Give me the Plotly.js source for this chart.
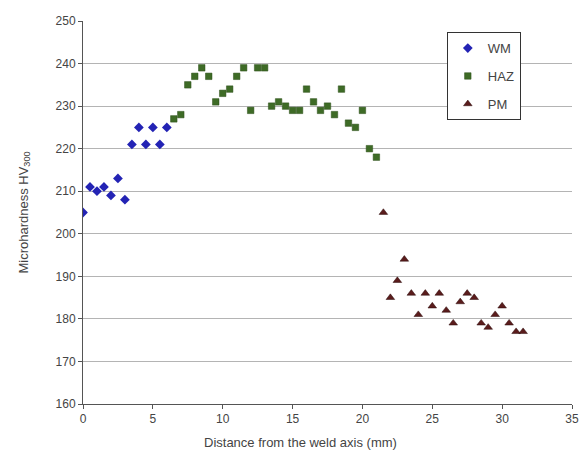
<!DOCTYPE html>
<html>
<head>
<meta charset="utf-8">
<script src="https://cdn.plot.ly/plotly-3.0.1.min.js"></script>
<style>html,body{margin:0;padding:0;background:#fff;}#chart{width:584px;height:455px;}</style>
</head>
<body>
<div id="chart"></div>
<script>
const wmX = [0, 0.5, 1, 1.5, 2, 2.5, 3, 3.5, 4, 4.5, 5, 5.5, 6];
const wmY = [205, 211, 210, 211, 209, 213, 208, 221, 225, 221, 225, 221, 225];

const hazX = [6.5, 7, 7.5, 8, 8.5, 9, 9.5, 10, 10.5, 11, 11.5, 12, 12.5, 13, 13.5, 14, 14.5, 15, 15.5, 16, 16.5, 17, 17.5, 18, 18.5, 19, 19.5, 20, 20.5, 21];
const hazY = [227, 228, 235, 237, 239, 237, 231, 233, 234, 237, 239, 229, 239, 239, 230, 231, 230, 229, 229, 234, 231, 229, 230, 228, 234, 226, 225, 229, 220, 218];

const pmX = [21.5, 22, 22.5, 23, 23.5, 24, 24.5, 25, 25.5, 26, 26.5, 27, 27.5, 28, 28.5, 29, 29.5, 30, 30.5, 31, 31.5];
const pmY = [205, 185, 189, 194, 186, 181, 186, 183, 186, 182, 179, 184, 186, 185, 179, 178, 181, 183, 179, 177, 177];

const seriesNames = ["WM", "HAZ", "PM"];
const xTitle = "Distance from the weld axis (mm)";
const yTitle = "Microhardness HV<sub>300</sub>";

const traces = [
  {x: wmX, y: wmY, name: seriesNames[0], legendgroup: "a", type: "scatter", mode: "markers",
   marker: {symbol: "diamond", size: 7.5, color: "#2323b4", line: {width: 0}}},
  {x: hazX, y: hazY, name: seriesNames[1], legendgroup: "b", type: "scatter", mode: "markers",
   marker: {symbol: "square", size: 6.5, color: "#3e6b26", line: {width: 0.5, color: "#2d4f1b"}}},
  {x: pmX, y: pmY, name: seriesNames[2], legendgroup: "c", type: "scatter", mode: "markers",
   marker: {symbol: "triangle-up", size: 7.5, color: "#5a1c1c", line: {width: 0.5, color: "#2a0a0a"}}}
];

const layout = {
  width: 584, height: 455,
  margin: {l: 83, r: 12, t: 21, b: 51},
  paper_bgcolor: "#fff", plot_bgcolor: "#fff",
  font: {family: "Liberation Sans, Arial, sans-serif", size: 12, color: "#333"},
  showlegend: true,
  legend: {x: 0.744, y: 0.971, xanchor: "left", yanchor: "top",
           bordercolor: "#333", borderwidth: 1, bgcolor: "#fff",
           tracegroupgap: 8, font: {size: 13, color: "#444"}},
  xaxis: {range: [0, 35], dtick: 5, tick0: 0, showgrid: false, zeroline: false,
          showline: true, linecolor: "#555", linewidth: 1,
          ticks: "outside", ticklen: 4, tickcolor: "#555",
          tickfont: {size: 12, color: "#444"}},
  yaxis: {range: [160, 250], dtick: 10, tick0: 160, showgrid: true, gridcolor: "#b4b4b4",
          zeroline: false, showline: true, linecolor: "#555", linewidth: 1,
          ticks: "outside", ticklen: 4, tickcolor: "#555",
          tickfont: {size: 12, color: "#444"},
          title: {text: yTitle, font: {size: 13, color: "#444"}, standoff: 24}},
  annotations: [{text: xTitle, xref: "paper", yref: "paper", x: 0.444, y: 0,
                 yshift: -38, xanchor: "center", yanchor: "middle", showarrow: false,
                 font: {size: 13, color: "#444"}}]
};

Plotly.newPlot("chart", traces, layout, {displayModeBar: false, staticPlot: true});
</script>
</body>
</html>
